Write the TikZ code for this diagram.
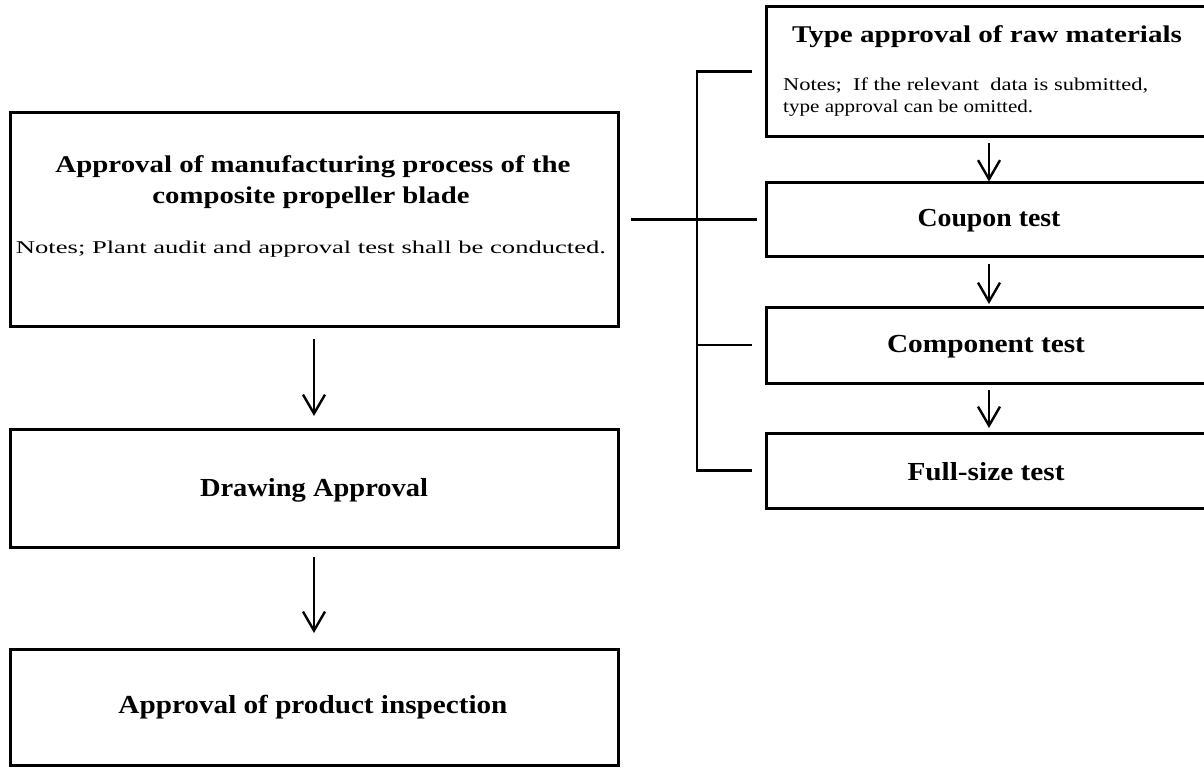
\documentclass[tikz,border=0pt]{standalone}
\usepackage{fontspec}
\setmainfont{Liberation Serif}
\usepackage{graphicx}
\usetikzlibrary{arrows.meta}
\newcommand\fitw[2]{\resizebox{#1pt}{\height}{#2}}
\tikzset{
  box/.style={draw=black, line width=3pt, inner sep=0pt, outer sep=0pt, fill=white},
  conn/.style={draw=black, line width=2.4pt},
  arr/.style={conn, -{Straight Barb[length=19pt, width=22pt]}},
  head/.style={inner sep=0pt, font=\fontsize{26}{30}\selectfont\bfseries},
  title/.style={inner sep=0pt, font=\fontsize{24}{28}\selectfont\bfseries},
  note/.style={inner sep=0pt, font=\fontsize{18}{21}\selectfont},
}
\begin{document}
\begin{tikzpicture}[x=1pt, y=-1pt]
\useasboundingbox[fill=white] (0,0) rectangle (1204,768);

% left column boxes
\node[box, minimum width=608pt, minimum height=214pt] (main) at (314,219.5) {};
\node[box, minimum width=608pt, minimum height=118pt] (draw) at (314,488) {};
\node[box, minimum width=608pt, minimum height=116pt] (prod) at (314,707) {};

% right column boxes
\node[box, minimum width=446pt, minimum height=129pt] (type) at (989,71.5) {};
\node[box, minimum width=446pt, minimum height=74pt] (coup) at (989,219.5) {};
\node[box, minimum width=446pt, minimum height=76pt] (comp) at (989,345) {};
\node[box, minimum width=446pt, minimum height=75pt] (full) at (989,470.5) {};

% texts
\node[title] (m1) at (313,167) {\fitw{515}{Approval of manufacturing process of the}};
\node[title] (m2) at (311,198) {\fitw{317}{composite propeller blade}};
\node[note] (mn) at (311,249) {\fitw{590}{Notes;\ Plant audit and approval test shall be conducted.}};
\node[head] (dt) at (314,490) {\fitw{228}{Drawing Approval}};
\node[head] (pt) at (313,707) {\fitw{389}{Approval of product inspection}};

\node[title] (tt) at (987,37) {\fitw{390}{Type approval of raw materials}};
\node[note, anchor=west] (tn1) at (783,86) {\fitw{365}{Notes;\ \ If the relevant\ \ data is submitted,}};
\node[note, anchor=west] (tn2) at (783,108) {\fitw{250}{type approval can be omitted.}};
\node[head] (ct) at (989,221) {\fitw{143}{Coupon test}};
\node[head] (cpt) at (986,347) {\fitw{198}{Component test}};
\node[head] (ft) at (986,472) {\fitw{157}{Full-size test}};

% left arrows
\draw[arr, shorten <=12pt, shorten >=13pt] (main.south) -- (draw.north);
\draw[arr, shorten <=10pt, shorten >=16pt] (draw.south) -- (prod.north);

% right arrows
\draw[arr, shorten <=7pt, shorten >=1pt] (type.south) -- (coup.north);
\draw[arr, shorten <=7pt, shorten >=3pt] (coup.south) -- (comp.north);
\draw[arr, shorten <=7pt, shorten >=5pt] (comp.south) -- (full.north);

% link main -> coupon
\draw[conn, shorten <=13pt, shorten >=9pt] (main.east) -- (coup.west);

% bracket
\coordinate (bx) at (697,0);
\draw[conn] ([xshift=-14pt]type.west) -- (bx |- type.west) -- (bx |- full.west) -- ([xshift=-14pt]full.west);
\draw[conn] (bx |- comp.west) -- ([xshift=-14pt]comp.west);
\end{tikzpicture}
\end{document}
